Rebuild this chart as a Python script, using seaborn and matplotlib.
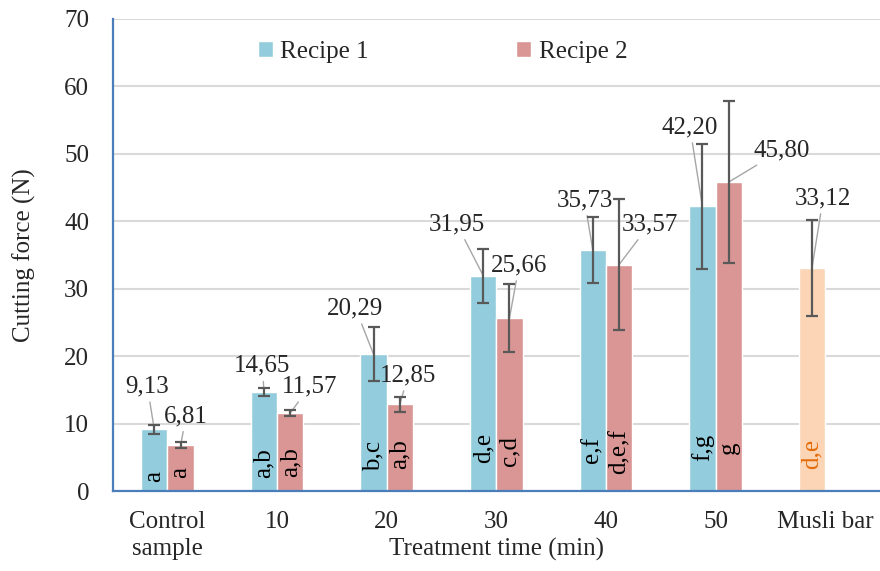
import numpy as np
import pandas as pd
import matplotlib.pyplot as plt
import seaborn as sns

# values
categories = ['Control\nsample', '10', '20', '30', '40', '50', 'Musli bar']
recipe1 = [9.13, 14.65, 20.29, 31.95, 35.73, 42.20, 33.12]
recipe2 = [6.81, 11.57, 12.85, 25.66, 33.57, 45.80]
err1 = [0.7, 0.6, 4.0, 4.0, 4.9, 9.3, 7.1]
err2 = [0.5, 0.5, 1.1, 5.0, 9.7, 12.0]
letters1 = ['a', 'a,b', 'b,c', 'd,e', 'e,f', 'f,g', 'd,e']
letters2 = ['a', 'a,b', 'a,b', 'c,d', 'd,e,f', 'g']

# label layout (offsets in points from bar top, letter heights in data units)
off1 = [(-5, 31), (-1, 19), (-13, 33), (-19, 37), (-6, 36), (-9, 57), (8, 50)]
off2 = [(4, 21), (14, 19), (6, 21), (7, 38), (22, 29), (38, 23)]
letter_y1 = [2.2, 4.2, 5.2, 6.4, 6.1, 6.5, 5.5]
letter_y2 = [2.7, 4.3, 5.5, 5.9, 5.9, 6.4]

df = pd.DataFrame({
    'time': categories + categories[:6],
    'force': recipe1 + recipe2,
    'recipe': ['Recipe 1'] * 7 + ['Recipe 2'] * 6,
})

sns.set_theme(style='white')
plt.rcParams['font.family'] = ['Liberation Serif', 'DejaVu Serif']

fig = plt.figure(figsize=(8.8, 5.71), dpi=100)
ax = fig.add_axes([0.128, 0.14, 0.872, 0.827])

colors = {'Recipe 1': '#93CDDD', 'Recipe 2': '#D99694'}
sns.barplot(data=df, x='time', y='force', hue='recipe', order=categories,
            hue_order=['Recipe 1', 'Recipe 2'], palette=colors, width=0.48,
            errorbar=None, saturation=1, ax=ax)

fs = 18
for cont, vals, errs, offs, letters, ly in [
        (ax.containers[0], recipe1, err1, off1, letters1, letter_y1),
        (ax.containers[1], recipe2, err2, off2, letters2, letter_y2)]:
    bars = sorted(cont.patches, key=lambda p: p.get_x())
    xs = [p.get_x() + p.get_width() / 2 for p in bars]
    for i, (x, v) in enumerate(zip(xs, vals)):
        ax.annotate(f'{v:.2f}'.replace('.', ','), xy=(x, v), xytext=offs[i],
                    textcoords='offset points', ha='center', va='center',
                    fontsize=fs, zorder=2,
                    arrowprops=dict(arrowstyle='-', color='#A6A6A6', lw=1,
                                    shrinkA=1, shrinkB=0))
        col = 'black'
        if x > 5.6:
            bars[i].set_facecolor('#FBD5B5')
            col = '#E46C0A'
        ax.text(x, ly[i], letters[i], rotation=90, ha='center', va='center',
                fontsize=fs, color=col, zorder=4)
    ax.errorbar(xs, vals, yerr=errs, fmt='none', ecolor='#595959',
                elinewidth=1.6, capsize=4, capthick=1.6, zorder=3)

ax.set_xlim(-0.5, 6.5)
ax.set_ylim(0, 70)
ax.set_yticks(range(0, 71, 10))
ax.yaxis.grid(True, color='#D9D9D9', lw=1.5)
ax.set_axisbelow(True)
sns.despine(ax=ax)
for s in ['left', 'bottom']:
    ax.spines[s].set_color('#4A7EBB')
    ax.spines[s].set_linewidth(1.6)
ax.tick_params(axis='y', length=0, labelsize=fs, pad=17)
ax.tick_params(axis='x', length=0, labelsize=fs, pad=14)
for lab in ax.get_xticklabels():
    lab.set_linespacing(1.3)

ax.set_xlabel('Treatment time (min)', fontsize=fs)
ax.set_ylabel('Cutting force (N)', fontsize=fs)
ax.xaxis.set_label_coords(0.5, -0.1)
ax.yaxis.set_label_coords(-0.1, 0.5)

sns.move_legend(ax, 'center', bbox_to_anchor=(0.43, 0.93), ncol=2,
                frameon=False, title=None, fontsize=fs, handlelength=0.6,
                handleheight=0.6, handletextpad=0.3, columnspacing=5.9)

fig.savefig('out.png', dpi=100)
